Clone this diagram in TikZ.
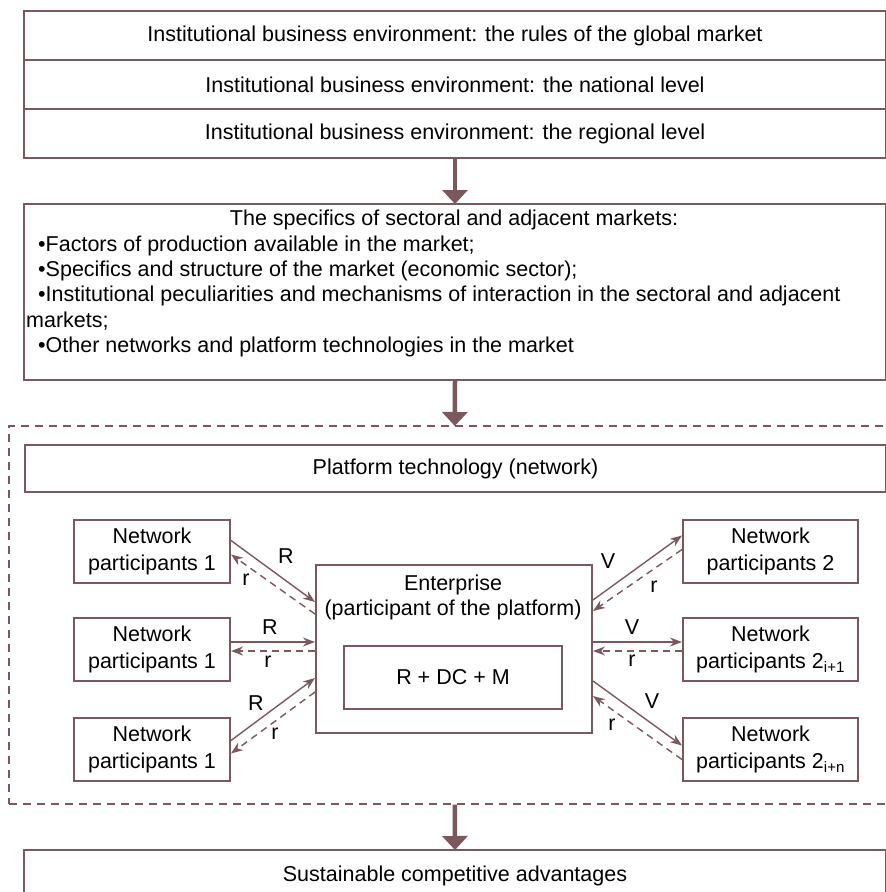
\documentclass[tikz,border=0pt]{standalone}
\usepackage{fontspec}
\setmainfont{Liberation Sans}
\usetikzlibrary{arrows.meta}
\definecolor{mauve}{RGB}{122,88,93}
\begin{document}
\begin{tikzpicture}[x=1pt,y=-1pt,
  font=\fontsize{21.5}{25}\selectfont,
  box/.style={draw=mauve, line width=2pt, inner sep=0pt, anchor=north west, fill=white},
  part/.style={box, minimum width=156pt, minimum height=63pt, align=center,
     font=\fontsize{21.5}{27}\selectfont},
  txt/.style={inner sep=0pt},
  bigarrow/.style={draw=mauve, line width=4.5pt, -{Triangle[length=14pt,width=25pt]}, shorten >=-1pt},
  conn/.style={draw=mauve, line width=1.4pt, -{Stealth[length=12pt,width=9pt]}},
  connd/.style={conn, dash pattern=on 7pt off 5pt},
  lab/.style={inner sep=0pt}]
\useasboundingbox (0,0) rectangle (886,892);
\clip (0,0) rectangle (886,892);

% top stacked box
\node[box, minimum width=862pt, minimum height=49pt] (g1) at (23,10) {Institutional business environment: the rules of the global market};
\node[box, minimum width=862pt, minimum height=49pt] (g2) at (23,59) {Institutional business environment: the national level};
\node[box, minimum width=862pt, minimum height=49pt] (g3) at (23,108) {Institutional business environment: the regional level};

% second box
\node[box, minimum width=862pt, minimum height=176pt] (s) at (23,203) {};
\node[txt] (s0) at (454,220) {The specifics of sectoral and adjacent markets:};
\node[txt, anchor=west] (s1) at (38,245.5) {•Factors of production available in the market;};
\node[txt, anchor=west] (s2) at (38,271) {•Specifics and structure of the market (economic sector);};
\node[txt, anchor=west] (s3) at (38,296) {•Institutional peculiarities and mechanisms of interaction in the sectoral and adjacent};
\node[txt, anchor=west] (s4) at (26,321.5) {markets;};
\node[txt, anchor=west] (s5) at (38,347) {•Other networks and platform technologies in the market};

% dashed frame
\node[draw=mauve, line width=1.6pt, dash pattern=on 8pt off 6pt, anchor=north west,
      minimum width=892pt, minimum height=378pt, inner sep=0pt] (D) at (8,425) {};

\node[box, minimum width=861pt, minimum height=47pt] (pt) at (24,444) {Platform technology (network)};

% left participants
\node[part] (L1) at (73,519) {Network\\participants 1};
\node[part] (L2) at (73,617) {Network\\participants 1};
\node[part] (L3) at (73,717) {Network\\participants 1};
% right participants
\node[part, minimum width=175pt] (R1) at (682,519) {Network\\participants 2};
\node[part, minimum width=175pt] (R2) at (682,617) {Network\\participants 2\textsubscript{i+1}};
\node[part, minimum width=175pt] (R3) at (682,717) {Network\\participants 2\textsubscript{i+n}};

% enterprise
\node[box, minimum width=276pt, minimum height=168pt] (E) at (315,564) {};
\node[txt, align=center] (Et) at (453,597.5) {Enterprise\\(participant of the platform)};
\node[box, minimum width=218pt, minimum height=63pt] (I) at (343,645) {R + DC + M};

% bottom box
\node[box, minimum width=862pt, minimum height=52pt] (B) at (23,849) {Sustainable competitive advantages};

% big arrows
\draw[bigarrow] (g3.south) -- (s.north);
\draw[bigarrow] (s.south) -- (D.north);
\draw[bigarrow] (D.south) -- (B.north);

% left connectors
\draw[conn]  ([yshift=11pt]L1.east) -- ([yshift=47pt]E.west);
\draw[connd] ([yshift=35pt]E.west) -- ([yshift=-3pt]L1.east);
\draw[conn]  ([yshift=7.5pt]L2.east) -- ([yshift=7pt]E.west);
\draw[connd] ([yshift=-2pt]E.west) -- ([yshift=-1.5pt]L2.east);
\draw[conn]  ([yshift=9pt]L3.east) -- ([yshift=-29pt]E.west);
\draw[connd] ([yshift=-43pt]E.west) -- ([yshift=-4pt]L3.east);

% right connectors
\draw[conn]  ([yshift=49pt]E.east) -- ([yshift=16pt]R1.west);
\draw[connd] ([yshift=2pt]R1.west) -- ([yshift=38pt]E.east);
\draw[conn]  ([yshift=7pt]E.east) -- ([yshift=7.5pt]R2.west);
\draw[connd] ([yshift=-1.5pt]R2.west) -- ([yshift=-2pt]E.east);
\draw[conn]  ([yshift=-32pt]E.east) -- ([yshift=4pt]R3.west);
\draw[connd] ([yshift=-10pt]R3.west) -- ([yshift=-47pt]E.east);

% labels
\node[lab] (lR1) at (286,556) {R};
\node[lab] (lr1) at (246,580) {r};
\node[lab] (lR2) at (270,627) {R};
\node[lab] (lr2) at (268,662) {r};
\node[lab] (lR3) at (256,703) {R};
\node[lab] (lr3) at (275,734) {r};
\node[lab] (rV1) at (608,561) {V};
\node[lab] (rr1) at (654,587) {r};
\node[lab] (rV2) at (632,627) {V};
\node[lab] (rr2) at (632,661) {r};
\node[lab] (rV3) at (652,701) {V};
\node[lab] (rr3) at (612,725) {r};
\end{tikzpicture}
\end{document}
